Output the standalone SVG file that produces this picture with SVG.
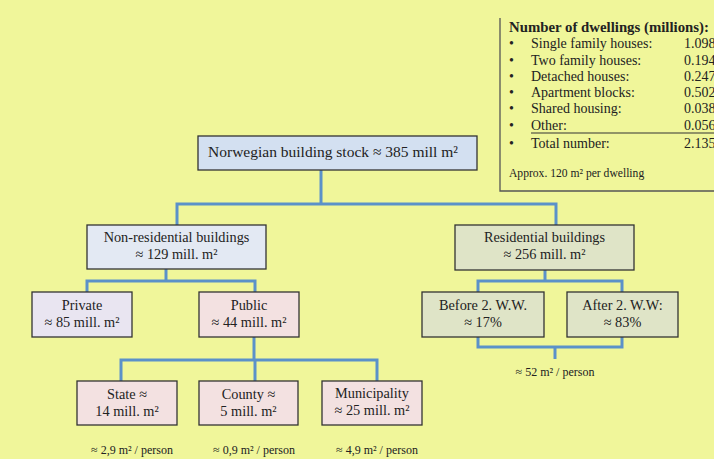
<svg xmlns="http://www.w3.org/2000/svg" width="714" height="459" viewBox="0 0 714 459">
<style>
text{font-family:"Liberation Serif","DejaVu Serif",serif;fill:#222;}
.box{stroke:#333;stroke-width:1.3;}
.blue{fill:#d3e0f1;}
.lblue{fill:#e3e9f3;}
.green{fill:#dfe4c7;}
.lav{fill:#e9e5f1;}
.pink{fill:#f3e1e1;}
.c{text-anchor:middle;font-size:14.3px;}
.conn{fill:none;stroke:#5b91c9;stroke-width:3;stroke-linejoin:miter;}
.pp{text-anchor:middle;font-size:12px;}
.dw{font-size:14px;}
</style>
<rect width="714" height="459" fill="#f0f69a"/>

<g id="connectors">
<path class="conn" d="M321,170 V204 M177,226 V204 H556 V226"/>
<path class="conn" d="M166,269 V281 M87,292 V281 H255 V292"/>
<path class="conn" d="M545,270 V281 M478,292 V281 H622 V292"/>
<path class="conn" d="M478,337 V347 H622 V337 M555,347 V359"/>
<path class="conn" d="M254,337 V360 M121,382 V360 H377 V382 M255,360 V382"/>
</g>

<g id="dwellings">
<path d="M500,18 V191 H714" fill="none" stroke="#555" stroke-width="1.3"/>
<text x="509" y="32" style="font-size:14.8px;font-weight:bold">Number of dwellings (millions):</text>
<g class="dw">
<text x="509" y="48">•</text><text x="531" y="48">Single family houses:</text><text x="684" y="48">1.098</text>
<text x="509" y="65">•</text><text x="531" y="65">Two family houses:</text><text x="684" y="65">0.194</text>
<text x="509" y="81">•</text><text x="531" y="81">Detached houses:</text><text x="684" y="81">0.247</text>
<text x="509" y="97">•</text><text x="531" y="97">Apartment blocks:</text><text x="684" y="97">0.502</text>
<text x="509" y="113">•</text><text x="531" y="113">Shared housing:</text><text x="684" y="113">0.038</text>
<text x="509" y="130">•</text><text x="531" y="130">Other:</text><text x="684" y="130">0.056</text>
<text x="509" y="148">•</text><text x="531" y="148">Total number:</text><text x="684" y="148">2.135</text>
</g>
<line x1="531" y1="133" x2="714" y2="133" stroke="#333" stroke-width="1"/>
<text x="509" y="177" style="font-size:11.6px">Approx. 120 m² per dwelling</text>
</g>

<g id="root">
<rect class="box blue" x="198" y="136" width="279" height="34"/>
<text x="333" y="157" style="font-size:15.5px;text-anchor:middle">Norwegian building stock ≈ 385 mill m²</text>
</g>

<g id="nonres">
<rect class="box lblue" x="87" y="225" width="179" height="44"/>
<text class="c" x="176.5" y="242">Non-residential buildings</text>
<text class="c" x="176.5" y="259">≈ 129 mill. m²</text>
</g>

<g id="res">
<rect class="box green" x="455" y="225" width="179" height="45"/>
<text class="c" x="544.5" y="242">Residential buildings</text>
<text class="c" x="544.5" y="259">≈ 256 mill. m²</text>
</g>

<g id="private">
<rect class="box lav" x="32" y="292" width="100" height="45"/>
<text class="c" x="82" y="310">Private</text>
<text class="c" x="82" y="327">≈ 85 mill. m²</text>
</g>

<g id="public">
<rect class="box pink" x="199" y="292" width="100" height="45"/>
<text class="c" x="249" y="310">Public</text>
<text class="c" x="249" y="327">≈ 44 mill. m²</text>
</g>

<g id="before">
<rect class="box green" x="422" y="292" width="122" height="45"/>
<text class="c" x="483" y="310">Before 2. W.W.</text>
<text class="c" x="483" y="327">≈ 17%</text>
</g>

<g id="after">
<rect class="box green" x="567" y="292" width="111" height="45"/>
<text class="c" x="622.5" y="310">After 2. W.W:</text>
<text class="c" x="622.5" y="327">≈ 83%</text>
</g>
<text class="pp" x="555" y="376">≈ 52 m² / person</text>

<g id="state">
<rect class="box pink" x="77" y="381" width="100" height="44"/>
<text class="c" x="127" y="399">State ≈</text>
<text class="c" x="127" y="416">14 mill. m²</text>
</g>

<g id="county">
<rect class="box pink" x="199" y="381" width="99" height="44"/>
<text class="c" x="248.5" y="399">County ≈</text>
<text class="c" x="248.5" y="416">5 mill. m²</text>
</g>

<g id="municipality">
<rect class="box pink" x="322" y="381" width="100" height="44"/>
<text class="c" x="372" y="398">Municipality</text>
<text class="c" x="372" y="415">≈ 25 mill. m²</text>
</g>

<text class="pp" x="132" y="454">≈ 2,9 m² / person</text>
<text class="pp" x="254" y="454">≈ 0,9 m² / person</text>
<text class="pp" x="377" y="454">≈ 4,9 m² / person</text>
</svg>
